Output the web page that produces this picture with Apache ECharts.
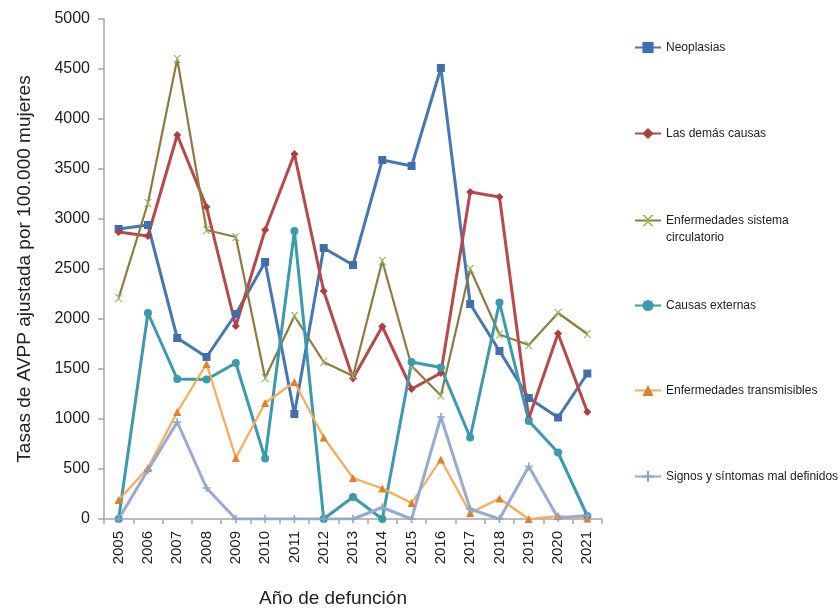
<!DOCTYPE html>
<html>
<head>
<meta charset="utf-8">
<script src="https://cdn.jsdelivr.net/npm/echarts@6/dist/echarts.min.js"></script>
<style>
  html, body { margin: 0; padding: 0; background: #fff; }
  #chart { width: 839px; height: 613px; }
</style>
</head>
<body>
<div id="chart"></div>
<script>
// Años de defunción
const years = ['2005','2006','2007','2008','2009','2010','2011','2012','2013','2014','2015','2016','2017','2018','2019','2020','2021'];

// Tasas de AVPP ajustadas por 100.000 mujeres, por grupo de causas
const neoplasias      = [2900, 2940, 1810, 1620, 2050, 2570, 1050, 2710, 2540, 3590, 3530, 4510, 2150, 1680, 1210, 1015, 1455];
const demasCausas     = [2870, 2830, 3840, 3120, 1930, 2890, 3650, 2280, 1405, 1925, 1300, 1460, 3270, 3220, 1005, 1855, 1070];
const circulatorio    = [2210, 3160, 4600, 2890, 2820, 1410, 2030, 1570, 1430, 2580, 1530, 1235, 2500, 1845, 1740, 2060, 1850];
const causasExternas  = [0, 2060, 1400, 1395, 1560, 605, 2880, 0, 220, 0, 1570, 1515, 815, 2165, 980, 665, 30];
const transmisibles   = [190, 510, 1070, 1550, 610, 1160, 1370, 815, 410, 305, 160, 595, 60, 205, 0, 30, 5];
const signosSintomas  = [0, 490, 970, 310, 0, 0, 0, 0, 0, 115, 0, 1020, 100, 0, 525, 10, 35];

const yTicks = { min: 0, max: 5000, interval: 500 };

const FONT = 'Liberation Sans, Arial, sans-serif';

const xMark = 'path://M0,0 L2,0 L5,3 L8,0 L10,0 L6,4.2 L6,5.8 L10,10 L8,10 L5,7 L2,10 L0,10 L4,5.8 L4,4.2 Z';
const plusMark = 'path://M4,0 L6,0 L6,4 L10,4 L10,6 L6,6 L6,10 L4,10 L4,6 L0,6 L0,4 L4,4 Z';

const seriesDefs = [
  { name: 'Neoplasias', data: neoplasias, line: '#4677B5', mark: '#3F6FAE', symbol: 'rect', size: 8, width: 3 },
  { name: 'Las demás causas', data: demasCausas, line: '#B8484A', mark: '#B03E40', symbol: 'diamond', size: 8, width: 3 },
  { name: 'Enfermedades sistema circulatorio', data: circulatorio, line: '#8E7B3E', mark: '#94B95A', symbol: xMark, size: 8, width: 2.2 },
  { name: 'Causas externas', data: causasExternas, line: '#3A9AAE', mark: '#3A9AAE', symbol: 'circle', size: 8, width: 3 },
  { name: 'Enfermedades transmisibles', data: transmisibles, line: '#FDAA55', mark: '#E0802F', symbol: 'triangle', size: 8, width: 2.2 },
  { name: 'Signos y síntomas mal definidos', data: signosSintomas, line: '#96AAD2', mark: '#8EA4CF', symbol: plusMark, size: 8, width: 3 }
];

// Legend entries are spread down the right side, one block each
const legendTops = [34, 120, 190, 292, 377, 463];

// The two-line entry gets a blank first line so its key lines up with the first text line
const legendLabel = (name) =>
  name === 'Enfermedades sistema circulatorio' ? '\nEnfermedades sistema\ncirculatorio' : name;

const chart = echarts.init(document.getElementById('chart'), null, { renderer: 'canvas' });

chart.setOption({
  backgroundColor: '#ffffff',
  animation: false,
  grid: { left: 104, right: 237, top: 19, bottom: 89, containLabel: false },
  legend: seriesDefs.map((s, i) => ({
    data: [s.name],
    orient: 'vertical',
    left: 629,
    top: legendTops[i],
    itemWidth: 26,
    itemHeight: 14,
    itemGap: 2,
    selectedMode: false,
    formatter: legendLabel,
    textStyle: { fontFamily: FONT, fontSize: 12, color: '#222', lineHeight: 17 }
  })),
  xAxis: {
    type: 'category',
    data: years,
    boundaryGap: true,
    name: 'Año de defunción',
    nameLocation: 'middle',
    nameGap: 70,
    nameTextStyle: { fontFamily: FONT, fontSize: 19, color: '#222', padding: [0, 40, 0, 0] },
    axisLine: { lineStyle: { color: '#A6A6A6', width: 1.5 } },
    axisTick: { show: true, length: 5, alignWithLabel: false, lineStyle: { color: '#A6A6A6', width: 1.5 } },
    axisLabel: { rotate: 90, fontFamily: FONT, fontSize: 15, color: '#222', margin: 12, interval: 0 },
    splitLine: { show: false }
  },
  yAxis: {
    type: 'value',
    min: yTicks.min,
    max: yTicks.max,
    interval: yTicks.interval,
    name: 'Tasas de AVPP ajustada por 100.000 mujeres',
    nameLocation: 'middle',
    nameGap: 70,
    nameRotate: 90,
    nameTextStyle: { fontFamily: FONT, fontSize: 19, color: '#222' },
    axisLine: { show: true, lineStyle: { color: '#A6A6A6', width: 1.5 } },
    axisTick: { show: true, length: 6, lineStyle: { color: '#A6A6A6', width: 1.5 } },
    axisLabel: { fontFamily: FONT, fontSize: 16, color: '#222', margin: 14, formatter: (v) => String(v) },
    splitLine: { show: false }
  },
  series: seriesDefs.map(s => ({
    name: s.name,
    type: 'line',
    data: s.data,
    symbol: s.symbol,
    symbolSize: s.size,
    showSymbol: true,
    lineStyle: { color: s.line, width: s.width },
    itemStyle: { color: s.mark, borderWidth: 0 },
    emphasis: { disabled: true }
  }))
});
</script>
</body>
</html>
